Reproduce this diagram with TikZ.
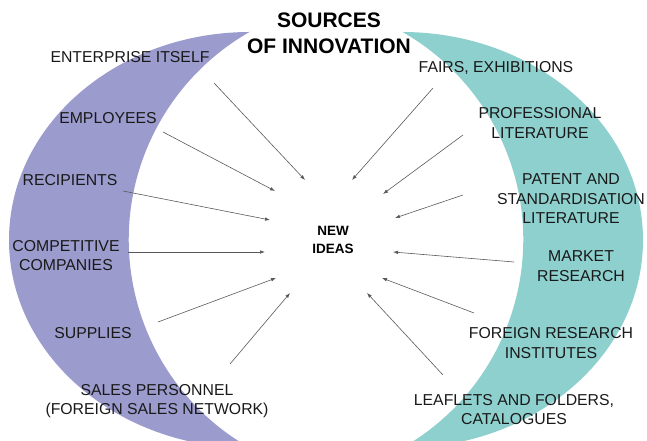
\documentclass[tikz,border=0pt]{standalone}
\usepackage{fontspec}
\setmainfont{Liberation Sans}
\usetikzlibrary{arrows.meta}
\definecolor{lavender}{RGB}{155,155,205}
\definecolor{seateal}{RGB}{142,208,206}

\begin{document}
\begin{tikzpicture}[x=1pt,y=1pt,
    lbl/.style={align=center,text=black!90,font=\fontsize{15.8}{19.5}\selectfont},
    arr/.style={black!65,line width=0.6pt,-{Latex[length=5pt,width=3.6pt]}}]
  \useasboundingbox (0,0) rectangle (647,441);
  \clip (0,0) rectangle (647,441);
  % the two crescents
  \fill[lavender] (250,409) arc[start angle=90,end angle=270,x radius=241,y radius=208]
    arc[start angle=240.44,end angle=119.56,radius=239.3] -- cycle;
  \fill[seateal] (402,409) arc[start angle=90,end angle=-90,x radius=241,y radius=208]
    arc[start angle=-60.44,end angle=60.44,radius=239.3] -- cycle;
  % titles
  \node[align=center,font=\bfseries\fontsize{21}{25.5}\selectfont] (title) at (329,407.5) {SOURCES\\OF INNOVATION};
  \node[align=center,font=\bfseries\fontsize{13.5}{18}\selectfont] (ideas) at (333,201) {NEW\\IDEAS};
  % left sources
  \node[lbl] (ent) at (130,384) {ENTERPRISE ITSELF};
  \node[lbl] (emp) at (108,323) {EMPLOYEES};
  \node[lbl] (rec) at (70,261) {RECIPIENTS};
  \node[lbl] (com) at (66,185.5) {COMPETITIVE\\COMPANIES};
  \node[lbl] (sup) at (93,108) {SUPPLIES};
  \node[lbl] (sal) at (157,40) {SALES PERSONNEL\\(FOREIGN SALES NETWORK)};
  % right sources
  \node[lbl] (fai) at (496,373) {FAIRS, EXHIBITIONS};
  \node[lbl] (pro) at (540,318) {PROFESSIONAL\\LITERATURE};
  \node[lbl] (pat) at (571,242) {PATENT AND\\STANDARDISATION\\LITERATURE};
  \node[lbl] (mar) at (581,175) {MARKET\\RESEARCH};
  \node[lbl] (for) at (551,98) {FOREIGN RESEARCH\\INSTITUTES};
  \node[lbl] (lea) at (514,31.5) {LEAFLETS AND FOLDERS,\\CATALOGUES};
  % arrow ends
  \coordinate (ent-t) at (214,358); \coordinate (ent-h) at (305,261);
  \coordinate (emp-t) at (163,309); \coordinate (emp-h) at (275,250);
  \coordinate (rec-t) at (123,250); \coordinate (rec-h) at (270,221);
  \coordinate (com-t) at (128,189); \coordinate (com-h) at (265,189);
  \coordinate (sup-t) at (158,119); \coordinate (sup-h) at (276,163);
  \coordinate (sal-t) at (230,77);  \coordinate (sal-h) at (290,148);
  \coordinate (fai-t) at (433,353); \coordinate (fai-h) at (352,261);
  \coordinate (pro-t) at (463,306); \coordinate (pro-h) at (383,247);
  \coordinate (pat-t) at (463,246); \coordinate (pat-h) at (395,223);
  \coordinate (mar-t) at (514,179); \coordinate (mar-h) at (393,189);
  \coordinate (for-t) at (474,128); \coordinate (for-h) at (382,163);
  \coordinate (lea-t) at (443,66);  \coordinate (lea-h) at (367,148);
  \foreach \src in {ent,emp,rec,com,sup,sal,fai,pro,pat,mar,for,lea}
    \draw[arr] (\src-t) -- (\src-h);
\end{tikzpicture}
\end{document}
